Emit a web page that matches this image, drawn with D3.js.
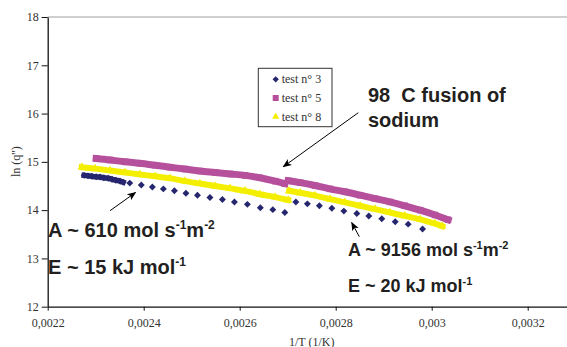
<!DOCTYPE html>
<html>
<head>
<meta charset="utf-8">
<script src="https://cdn.jsdelivr.net/npm/d3@7"></script>
<style>
  body { margin: 0; background: #fff; }
  svg { display: block; }
</style>
</head>
<body>
<div id="chart"></div>
<script>
var width = 567
var height = 347

// axis ticks
var xTicks = [0.0022, 0.0024, 0.0026, 0.0028, 0.003, 0.0032]
var xTickLabels = ["0,0022", "0,0024", "0,0026", "0,0028", "0,003", "0,0032"]
var yTicks = [12, 13, 14, 15, 16, 17, 18]

// test n° 3 : dense run at start, then single points (jump at the sodium fusion)
var test3_dense_x = [0.002276, 0.002284, 0.002292, 0.002301, 0.002309, 0.002317, 0.002326, 0.002334, 0.002342, 0.002351, 0.002357]
var test3_dense_y = [14.72, 14.71, 14.70, 14.69, 14.685, 14.67, 14.66, 14.64, 14.62, 14.60, 14.58]
var test3_x = [0.002371, 0.002395, 0.002418, 0.002441, 0.002464, 0.002488, 0.002512, 0.002538, 0.002564, 0.002589, 0.002616, 0.002643, 0.002669, 0.002694,
               0.002717, 0.002741, 0.002766, 0.002792, 0.002817, 0.002844, 0.002869, 0.002896, 0.002924, 0.002951, 0.002981]
var test3_y = [14.56, 14.52, 14.48, 14.44, 14.40, 14.35, 14.31, 14.26, 14.22, 14.17, 14.12, 14.05, 14.01, 13.95,
               14.17, 14.13, 14.09, 14.04, 13.98, 13.93, 13.88, 13.82, 13.76, 13.71, 13.61]

// test n° 5 : before / after fusion
var test5a_x = [0.002301, 0.00233, 0.002361, 0.002392, 0.002424, 0.002455, 0.002486, 0.002517, 0.002549, 0.00258, 0.002611, 0.002642, 0.002674, 0.002694]
var test5a_y = [15.07, 15.04, 15.00, 14.97, 14.93, 14.89, 14.85, 14.81, 14.78, 14.75, 14.72, 14.67, 14.60, 14.55]
var test5b_x = [0.002701, 0.002726, 0.002757, 0.002788, 0.002819, 0.002851, 0.002882, 0.002913, 0.002944, 0.002976, 0.003007, 0.003034]
var test5b_y = [14.61, 14.57, 14.51, 14.44, 14.38, 14.31, 14.24, 14.17, 14.09, 14.00, 13.90, 13.80]

// test n° 8 : before / after fusion
var test8a_x = [0.002271, 0.002299, 0.00233, 0.002361, 0.002392, 0.002424, 0.002455, 0.002486, 0.002517, 0.002549, 0.00258, 0.002611, 0.002642, 0.002674, 0.002701]
var test8a_y = [14.89, 14.86, 14.82, 14.78, 14.74, 14.70, 14.66, 14.60, 14.55, 14.50, 14.45, 14.40, 14.33, 14.27, 14.21]
var test8b_x = [0.002703, 0.002726, 0.002757, 0.002788, 0.002819, 0.002851, 0.002882, 0.002913, 0.002944, 0.002976, 0.003007, 0.003022]
var test8b_y = [14.40, 14.36, 14.30, 14.23, 14.16, 14.09, 14.02, 13.95, 13.88, 13.81, 13.72, 13.67]

var seriesNames = ["test n° 3", "test n° 5", "test n° 8"]
var colors = ["#26266f", "#b6509c", "#f4ee00"]

var svg, x, y

init_vis()
draw_axes()
draw_series()
draw_legend()
draw_notes()

function init_vis(){
  svg = d3.select("#chart")
    .append("svg")
      .attr("width", width)
      .attr("height", height)

  x = d3.scaleLinear().domain([0.0022, 0.0033]).range([47.7, 575.7])
  y = d3.scaleLinear().domain([12, 18]).range([306.7, 17])

  var defs = svg.append("defs")
  defs.append("marker")
      .attr("id", "head")
      .attr("viewBox", "0 0 10 10")
      .attr("refX", 9).attr("refY", 5)
      .attr("markerWidth", 9).attr("markerHeight", 9)
      .attr("markerUnits", "userSpaceOnUse")
      .attr("orient", "auto")
    .append("path")
      .attr("d", "M0,1L10,5L0,9L2.5,5Z")
      .attr("fill", "#000")
}

function draw_axes(){
  // top border
  svg.append("line")
    .attr("x1", x(0.0022)).attr("x2", x(0.0033))
    .attr("y1", y(18)).attr("y2", y(18))
    .attr("stroke", "#a0a0a0")
    .attr("stroke-width", 1)

  var gy = svg.append("g")
    .attr("transform", "translate(" + x(0.0022) + ",0)")
    .call(d3.axisLeft(y).tickValues(yTicks).tickSize(6).tickSizeOuter(0).tickPadding(3).tickFormat(d => d))

  var gx = svg.append("g")
    .attr("transform", "translate(0," + y(12) + ")")
    .call(d3.axisBottom(x).tickValues(xTicks).tickSize(4).tickSizeOuter(0).tickPadding(8).tickFormat((d, i) => xTickLabels[i]))

  ;[gx, gy].forEach(function(g){
    g.select(".domain").attr("stroke", "#111").attr("stroke-width", 1.3)
    g.selectAll(".tick line").attr("stroke", "#111")
    g.selectAll(".tick text")
      .attr("fill", "#333")
      .style("font-family", "'Liberation Serif', 'Times New Roman', serif")
      .style("font-size", "12px")
  })

  svg.append("text")
    .attr("transform", "rotate(-90)")
    .attr("x", -161.7).attr("y", 20)
    .attr("text-anchor", "middle")
    .attr("fill", "#333")
    .style("font-family", "'Liberation Serif', 'Times New Roman', serif")
    .style("font-size", "12px")
    .text("ln (q'')")

  svg.append("text")
    .attr("x", 311.7).attr("y", 345.5)
    .attr("text-anchor", "middle")
    .attr("fill", "#333")
    .style("font-family", "'Liberation Serif', 'Times New Roman', serif")
    .style("font-size", "12px")
    .text("1/T (1/K)")
}

function pts(xs, ys){
  return xs.map((v, i) => [v, ys[i]])
}

function draw_band(data, color, w){
  var line = d3.line().x(d => x(d[0])).y(d => y(d[1])).curve(d3.curveMonotoneX)
  svg.append("path")
    .datum(data)
    .attr("d", line)
    .attr("fill", "none")
    .attr("stroke", color)
    .attr("stroke-width", w)
    .attr("stroke-linecap", "square")
}

function draw_marks(data, type, size, color, rot){
  svg.append("g")
    .selectAll("path")
    .data(data)
    .enter().append("path")
      .attr("d", d3.symbol().type(type).size(size))
      .attr("transform", d => "translate(" + x(d[0]) + "," + y(d[1]) + ")" + (rot ? " rotate(45)" : ""))
      .attr("fill", color)
}

function draw_series(){
  // test n° 8 (yellow triangles)
  var s8a = pts(test8a_x, test8a_y), s8b = pts(test8b_x, test8b_y)
  draw_band(s8a, colors[2], 6)
  draw_band(s8b, colors[2], 6)
  draw_marks(s8a.concat(s8b), d3.symbolTriangle, 30, colors[2])

  // test n° 5 (magenta squares)
  var s5a = pts(test5a_x, test5a_y), s5b = pts(test5b_x, test5b_y)
  draw_band(s5a, colors[1], 7)
  draw_band(s5b, colors[1], 7)
  draw_marks(s5a.concat(s5b), d3.symbolSquare, 42, colors[1])

  // test n° 3 (navy diamonds)
  var s3d = pts(test3_dense_x, test3_dense_y)
  draw_band(s3d, colors[0], 5.5)
  draw_marks(s3d, d3.symbolSquare, 24, colors[0], true)
  draw_marks(pts(test3_x, test3_y), d3.symbolSquare, 24, colors[0], true)
}

function draw_legend(){
  var lg = svg.append("g").attr("transform", "translate(258.3,68.3)")
  lg.append("rect")
    .attr("width", 73.7).attr("height", 58.4)
    .attr("fill", "#fff")
    .attr("stroke", "#333")
    .attr("stroke-width", 1)

  var types = [d3.symbolSquare, d3.symbolSquare, d3.symbolTriangle]
  var sizes = [20, 36, 22]
  var rows = lg.selectAll("g.row")
    .data(seriesNames)
    .enter().append("g")
      .attr("class", "row")
      .attr("transform", (d, i) => "translate(0," + (11 + i * 18.7) + ")")

  rows.append("path")
    .attr("d", (d, i) => d3.symbol().type(types[i]).size(sizes[i])())
    .attr("transform", (d, i) => "translate(17.4,0)" + (i == 0 ? " rotate(45)" : ""))
    .attr("fill", (d, i) => colors[i])

  rows.append("text")
    .attr("x", 23.4).attr("y", 4)
    .attr("fill", "#333")
    .style("font-family", "'Liberation Serif', 'Times New Roman', serif")
    .style("font-size", "12px")
    .text(d => d)
}

function rich_text(px, py, fs, parts){
  var t = svg.append("text")
    .attr("x", px).attr("y", py)
    .attr("fill", "#231f20")
    .style("font-family", "'Liberation Sans', Arial, sans-serif")
    .style("font-weight", "bold")
    .style("font-size", fs + "px")
    .style("white-space", "pre")
  var up = false
  var rise = Math.round(fs * 0.4)
  parts.forEach(function(p){
    var sup = p.charAt(0) == "^"
    var s = t.append("tspan").text(sup ? p.slice(1) : p)
    if (sup) { s.style("font-size", Math.round(fs * 0.6) + "px").attr("dy", up ? 0 : -rise); up = true }
    else if (up) { s.attr("dy", rise); up = false }
  })
}

function arrow(x1, y1, x2, y2){
  svg.append("line")
    .attr("x1", x1).attr("y1", y1).attr("x2", x2).attr("y2", y2)
    .attr("stroke", "#000").attr("stroke-width", 1)
    .attr("marker-end", "url(#head)")
}

function draw_notes(){
  rich_text(368, 101.7, 20, ["98\u00a0\u00a0C fusion of"])
  rich_text(368, 127, 20, ["sodium"])
  rich_text(48, 236.7, 20, ["A ~ 610 mol s", "^-1", "m", "^-2"])
  rich_text(48, 274, 20, ["E ~ 15 kJ mol", "^-1"])
  rich_text(348, 255.5, 18, ["A ~ 9156 mol s", "^-1", "m", "^-2"])
  rich_text(348, 291.7, 18, ["E ~ 20 kJ mol", "^-1"])

  arrow(358.3, 112.7, 283.3, 166.7)
  arrow(110, 210.7, 135.5, 192.5)
  arrow(359.3, 236.7, 351.7, 222.5)
}
</script>
</body>
</html>
